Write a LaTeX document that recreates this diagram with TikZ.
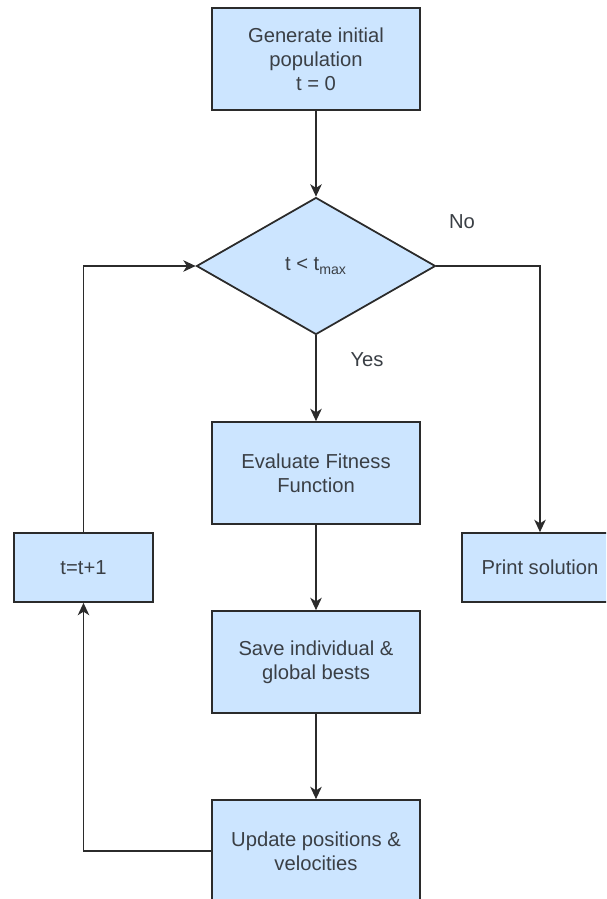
\documentclass[tikz,border=0pt]{standalone}
\usepackage{fontspec}
\setmainfont{Liberation Sans}
\usetikzlibrary{shapes.geometric,arrows.meta}
\definecolor{boxfill}{HTML}{CCE5FF}
\definecolor{boxline}{HTML}{2B2B2B}
\definecolor{boxtext}{HTML}{3A3F45}
\tikzset{
  box/.style={draw=boxline,fill=boxfill,line width=1pt,align=center,inner sep=0pt,
    minimum width=4.16cm,minimum height=2.04cm,text=boxtext,
    font=\fontsize{11.5}{13.6}\selectfont},
  smallbox/.style={box,minimum height=1.38cm},
  test/.style={box,diamond,aspect=1.75,minimum width=4.78cm,minimum height=2.74cm},
  flow/.style={line width=1pt,draw=boxline,-{Stealth[length=7pt,width=6.5pt,inset=2pt]}},
  plain/.style={line width=1pt,draw=boxline},
  lbl/.style={text=boxtext,font=\fontsize{11.5}{13.6}\selectfont}
}
\begin{document}
\begin{tikzpicture}[x=0.02cm,y=-0.02cm]
\clip (0,0) rectangle (606,899);
\fill[white] (0,0) rectangle (606,899);

\node[box] (init) at (316,59) {Generate initial\\population\\t = 0};
\node[test] (cond) at (316,266) {t < t\textsubscript{max}};
\node[box] (eval) at (316,473) {Evaluate Fitness\\Function};
\node[box] (save) at (316,662) {Save individual \&\\global bests};
\node[box] (upd) at (316,851) {Update positions \&\\velocities};
\node[smallbox,minimum width=2.78cm] (inc) at (83.5,567.5) {t=t+1};
\node[smallbox,minimum width=3.12cm] (print) at (540,567.5) {Print solution};

\node[lbl] (no) at (462,222) {No};
\node[lbl] (yes) at (367,360) {Yes};

\draw[flow] (init) -- (cond);
\draw[flow] (cond) -- (eval);
\draw[flow] (eval) -- (save);
\draw[flow] (save) -- (upd);
\draw[flow] (cond.east) -| (print.north);
\draw[flow] (upd.west) -| (inc.south);
\draw[flow] (inc.north) |- (cond.west);
\end{tikzpicture}
\end{document}
